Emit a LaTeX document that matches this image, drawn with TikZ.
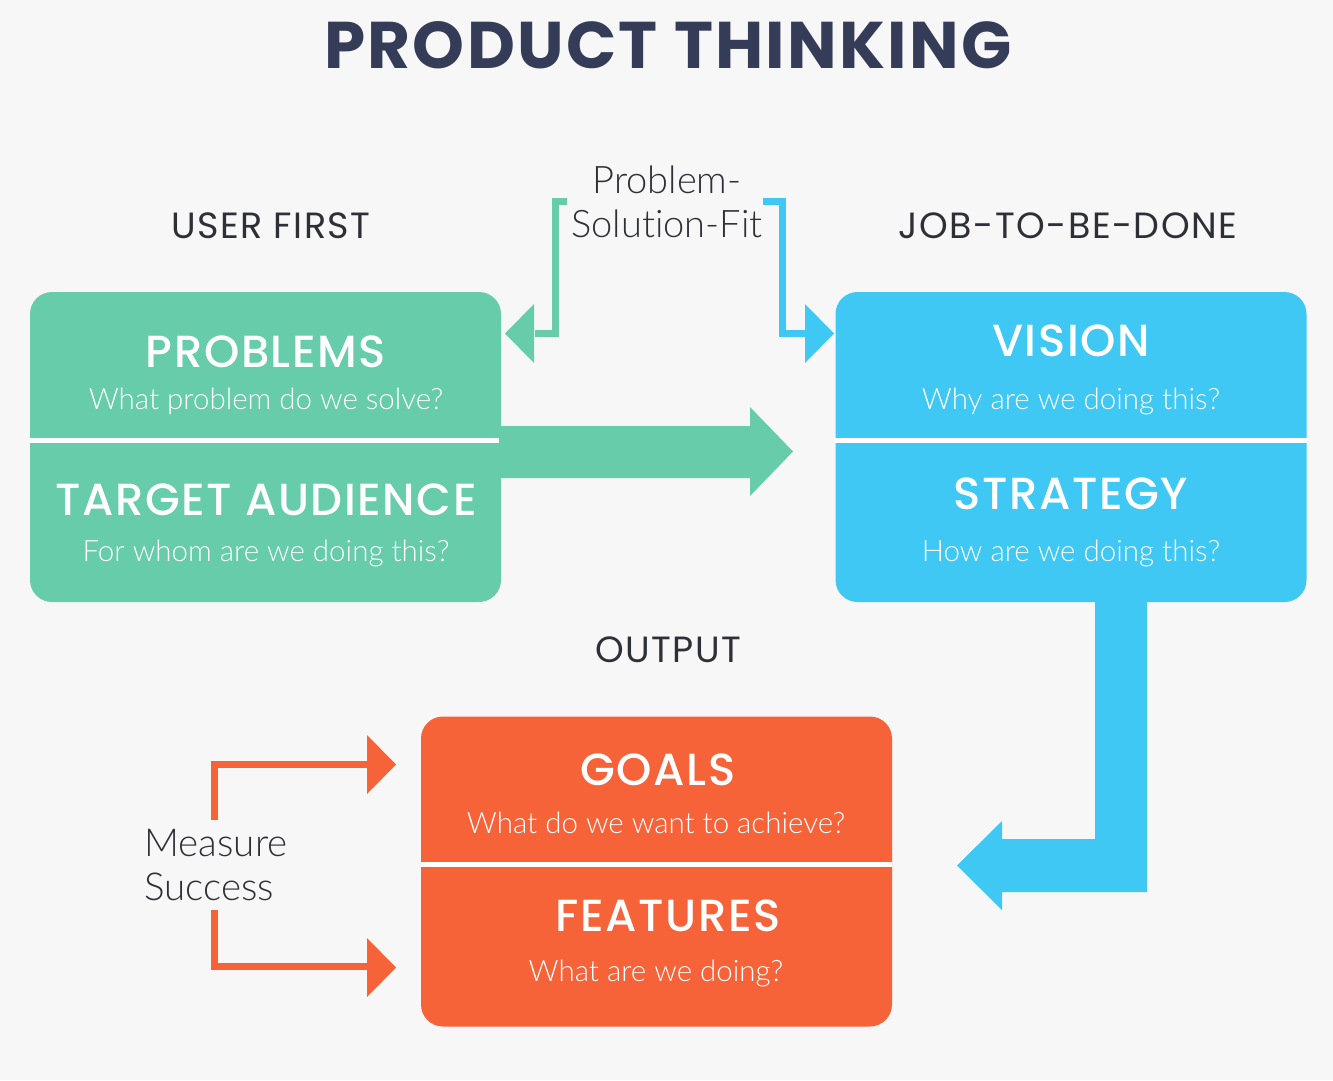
\documentclass[tikz,border=0pt]{standalone}
\usepackage{fontspec}
\setmainfont{Lato}[UprightFont=* Light, Ligatures=NoCommon]
\newfontfamily\headfont{Poppins}[UprightFont=* Medium, LetterSpace=3.5]
\newfontfamily\titlefont{Poppins}[UprightFont=* Bold, LetterSpace=3.5]
\newfontfamily\labelfont{Poppins}[LetterSpace=4]
\definecolor{bg}{HTML}{F7F7F7}
\definecolor{cgreen}{HTML}{66CCAA}
\definecolor{cblue}{HTML}{40C8F4}
\definecolor{corange}{HTML}{F76339}
\definecolor{ctitle}{HTML}{353C58}
\definecolor{ctext}{HTML}{2E3038}
\tikzset{
  box/.style={rounded corners=22pt, minimum width=471pt, minimum height=310pt, inner sep=0pt, draw=none},
  divider/.style={white, line width=5pt},
  head/.style={text=white, font=\headfont\fontsize{45}{50}\selectfont, inner sep=0pt},
  sub/.style={text=white, font=\fontsize{29.5}{34}\selectfont, inner sep=0pt},
  lbl/.style={text=ctext, font=\labelfont\fontsize{36.5}{40}\selectfont, inner sep=0pt},
  note/.style={text=ctext, font=\fontsize{38}{44}\selectfont, inner sep=0pt, align=center},
  thin/.style={line width=7pt, miter limit=10},
}
\begin{document}
\begin{tikzpicture}[x=1pt,y=-1pt]
\fill[bg] (0,0) rectangle (1333,1080);
\useasboundingbox (0,0) rectangle (1333,1080);

\node[text=ctitle, font=\titlefont\fontsize{66}{70}\selectfont, inner sep=0pt] (title) at (668,45) {PRODUCT THINKING};

% boxes
\node[box, fill=cgreen] (gbox) at (265.5,447) {};
\node[box, fill=cblue] (bbox) at (1071,447) {};
\node[box, fill=corange] (obox) at (656.5,871.5) {};

\draw[divider] (30,440) -- (499,440);
\draw[divider] (835,440.5) -- (1307,440.5);
\draw[divider] (421,864.5) -- (892,864.5);

% labels
\node[lbl] (userfirst) at (271,226) {USER FIRST};
\node[lbl] (jtbd) at (1068,226) {JOB-TO-BE-DONE};
\node[lbl] (output) at (668,650) {OUTPUT};
\node[note] (psf) at (667,202) {Problem-\\Solution-Fit};
\node[note, align=left, font=\fontsize{38.5}{44}\selectfont] (ms) at (216,865) {Measure\\Success};

% box texts
\node[head] (problems) at (266,352) {PROBLEMS};
\node[sub] (q1) at (266,401) {What problem do we solve?};
\node[head] (target) at (266,500) {TARGET AUDIENCE};
\node[sub] (q2) at (266,553) {For whom are we doing this?};

\node[head] (vision) at (1071,341) {VISION};
\node[sub] (q3) at (1071,401) {Why are we doing this?};
\node[head] (strategy) at (1071,494) {STRATEGY};
\node[sub] (q4) at (1071,553) {How are we doing this?};

\node[head] (goals) at (658,770) {GOALS};
\node[sub] (q5) at (656,823) {What do we want to achieve?};
\node[head] (features) at (668,916) {FEATURES};
\node[sub] (q6) at (656,973) {What are we doing?};

% big green arrow: problems box -> vision box
\fill[cgreen] (gbox.east |- 0,426) -- (750,426) -- (750,407) -- (793,451.5) -- (750,496) -- (750,478) -- (gbox.east |- 0,478) -- cycle;

% big blue L arrow: strategy box -> goals box
\fill[cblue] (1095,0 |- bbox.south) -- (1095,839) -- (1002,839) -- (1002,821) -- (957,865.5) -- (1002,910) -- (1002,892) -- (1147,892) -- (1147,0 |- bbox.south) -- cycle;

% small green arrow to problems box
\draw[thin, cgreen] (567,201.5) -- (555.5,201.5) -- (555.5,333.5) -- (535,333.5);
\fill[cgreen] (534,304) -- (505,333.5) -- (534,363) -- cycle;

% small blue arrow to vision box
\draw[thin, cblue] (763,201.5) -- (782,201.5) -- (782,333.5) -- (806,333.5);
\fill[cblue] (805,304) -- (834,333.5) -- (805,363) -- cycle;

% orange measure arrows
\draw[thin, corange] (214.5,820) -- (214.5,764.5) -- (368,764.5);
\fill[corange] (367,735) -- (396,764.5) -- (367,794) -- cycle;
\draw[thin, corange] (214.5,910) -- (214.5,966.5) -- (368,966.5);
\fill[corange] (367,938) -- (396,967.5) -- (367,997) -- cycle;
\end{tikzpicture}
\end{document}
